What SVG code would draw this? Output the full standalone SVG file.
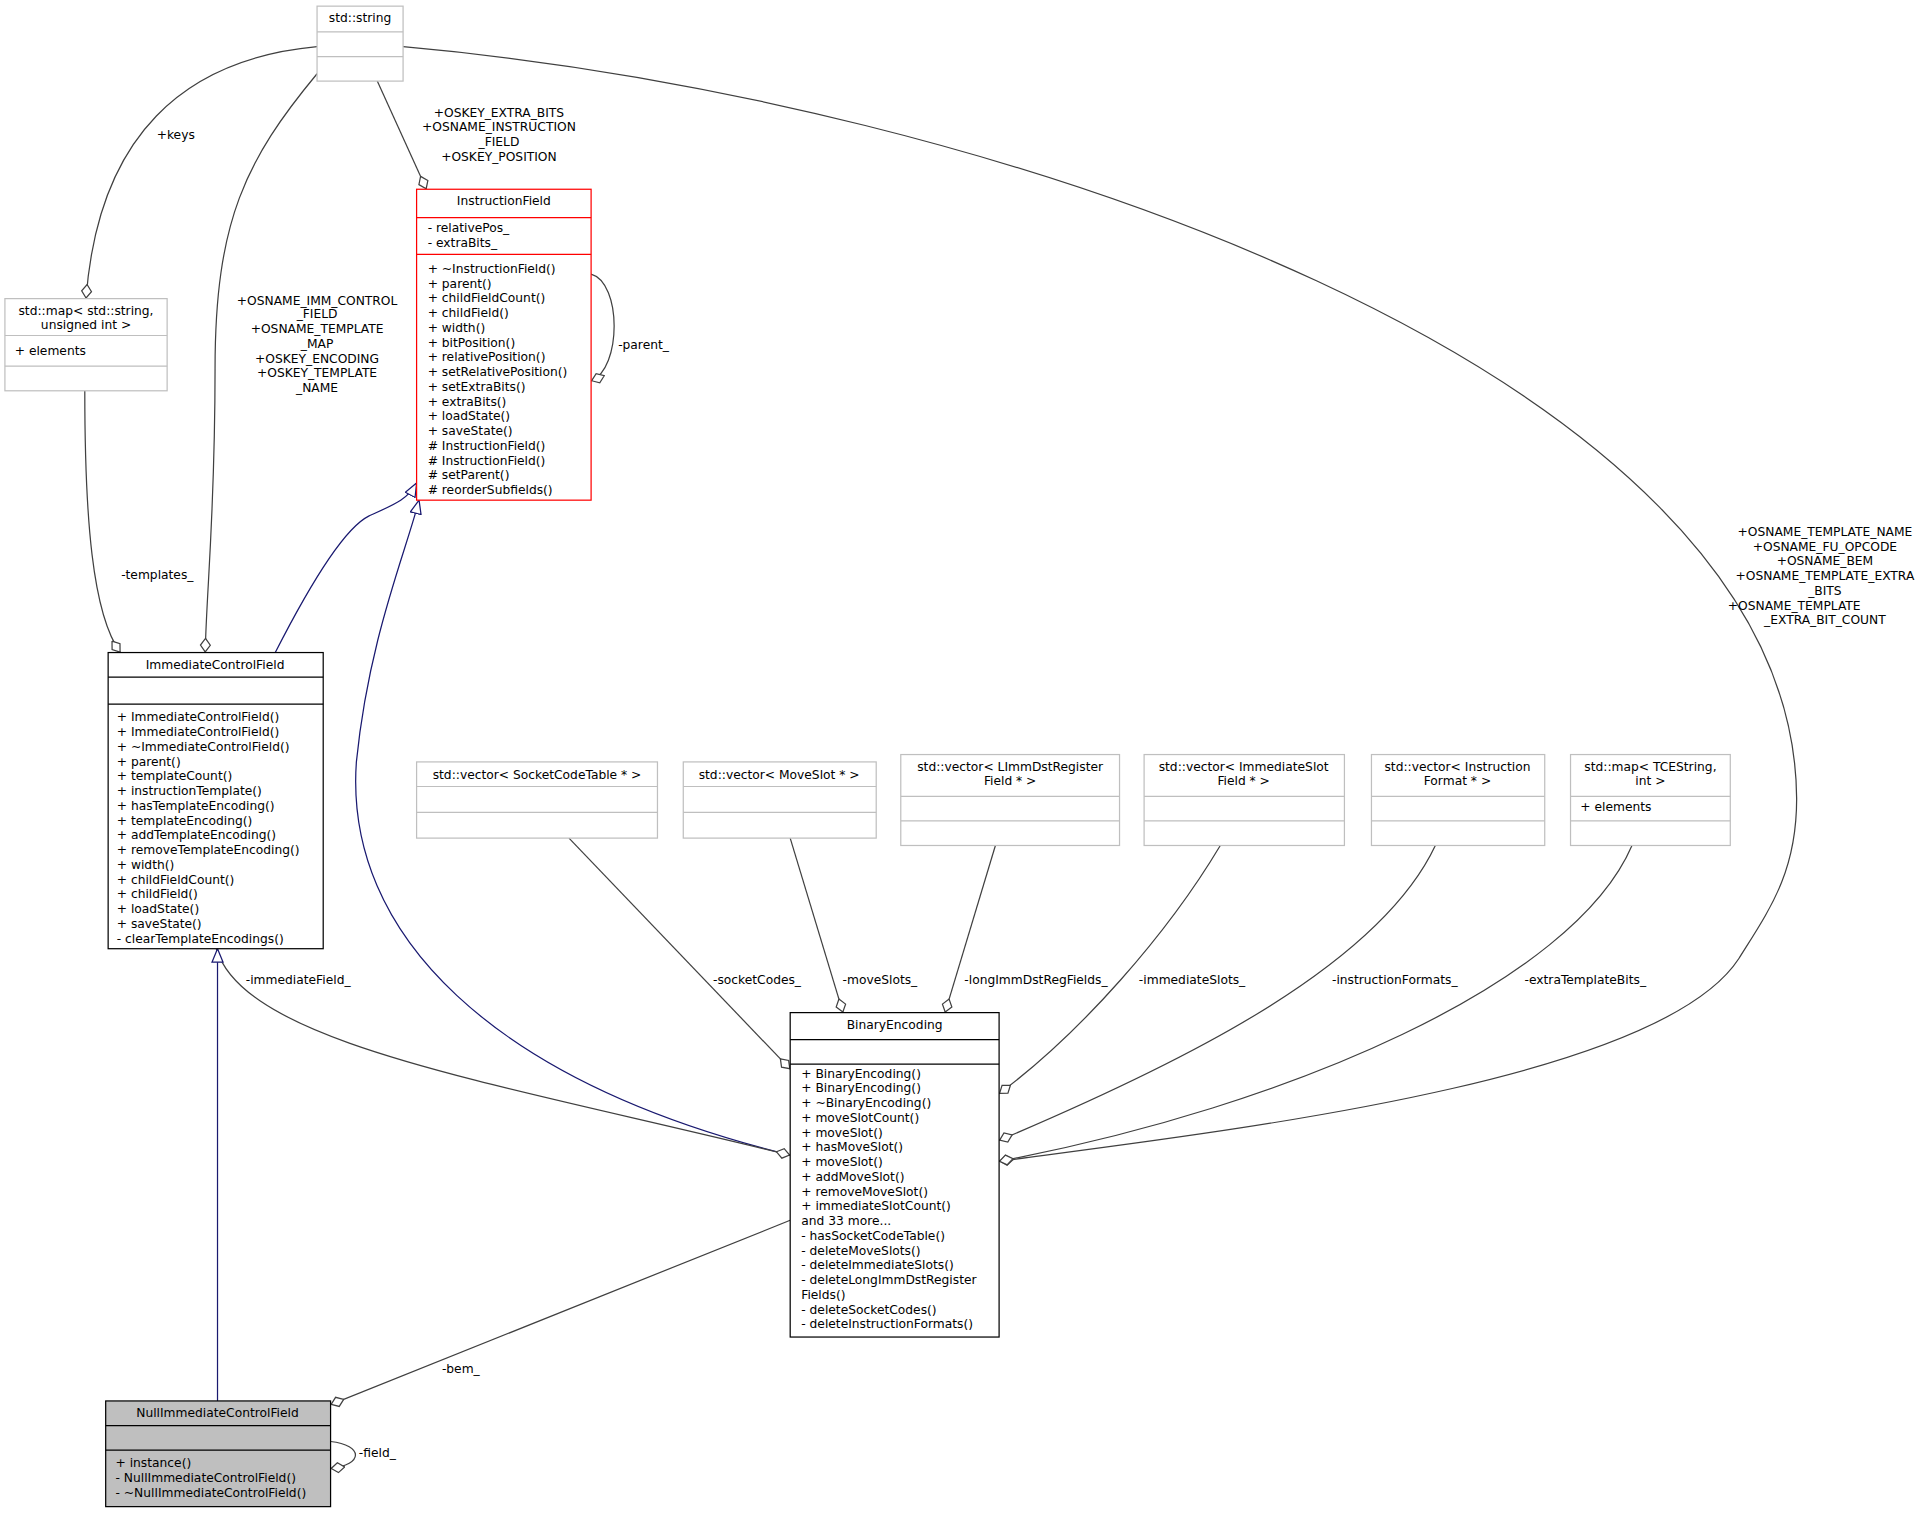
<svg xmlns="http://www.w3.org/2000/svg" width="1927" height="1513" viewBox="0 0 1927 1513">
<style>
text{font-family:"DejaVu Sans",sans-serif;font-size:10px;fill:#000}
.c{text-anchor:middle}
.g{fill:#fff;stroke:#bfbfbf;stroke-width:1}
.b{fill:#fff;stroke:#000;stroke-width:1}
.r{fill:#fff;stroke:#ff0000;stroke-width:1}
.n{fill:#bfbfbf;stroke:#000;stroke-width:1}
.e{fill:none;stroke:#404040;stroke-width:1;marker-end:url(#dia)}
.i{fill:none;stroke:#191970;stroke-width:1;marker-end:url(#tri)}
</style>
<defs>
<marker id="dia" viewBox="0 0 12 10" markerWidth="12" markerHeight="10" refX="12" refY="5" orient="auto" markerUnits="userSpaceOnUse"><path d="M0.5,5 L6,1 L11.5,5 L6,9 z" fill="#fff" stroke="#404040"/></marker>
<marker id="tri" viewBox="0 0 12 10" markerWidth="12" markerHeight="10" refX="11.5" refY="5" orient="auto" markerUnits="userSpaceOnUse"><path d="M0.5,0.5 L11.5,5 L0.5,9.5 z" fill="#fff" stroke="#191970"/></marker>
</defs>
<rect width="1927" height="1513" fill="#fff"/>
<g transform="scale(1.2289)">
<g id="connectors">
<path class="e" d="M258,38 C150,48 80,110 70,243"/>
<text class="c" x="143" y="113">+keys</text>
<path class="e" d="M258,60 C200,130 175,180 175,300 C175,420 168,480 167,531"/>
<text class="c" x="258" y="248">+OSNAME_IMM_CONTROL</text>
<text class="c" x="258" y="259">_FIELD</text>
<text class="c" x="258" y="271">+OSNAME_TEMPLATE</text>
<text class="c" x="258" y="283">_MAP</text>
<text class="c" x="258" y="295">+OSKEY_ENCODING</text>
<text class="c" x="258" y="307">+OSKEY_TEMPLATE</text>
<text class="c" x="258" y="319">_NAME</text>
<path class="e" d="M307,66 L347,154"/>
<text class="c" x="406" y="95">+OSKEY_EXTRA_BITS</text>
<text class="c" x="406" y="107">+OSNAME_INSTRUCTION</text>
<text class="c" x="406" y="119">_FIELD</text>
<text class="c" x="406" y="131">+OSKEY_POSITION</text>
<path class="e" d="M328,38 C800,80 1460,300 1462,650 C1462,710 1440,740 1415,780 C1350,880 1000,920 813,945"/>
<text class="c" x="1485" y="436">+OSNAME_TEMPLATE_NAME</text>
<text class="c" x="1485" y="448">+OSNAME_FU_OPCODE</text>
<text class="c" x="1485" y="460">+OSNAME_BEM</text>
<text class="c" x="1485" y="472">+OSNAME_TEMPLATE_EXTRA</text>
<text class="c" x="1485" y="484">_BITS</text>
<text x="1406" y="496">+OSNAME_TEMPLATE</text>
<text class="c" x="1485" y="508">_EXTRA_BIT_COUNT</text>
<path class="e" d="M69,318 C69,420 75,500 98,531"/>
<text class="c" x="128" y="471">-templates_</text>
<path class="i" d="M224,531 C250,480 280,430 300,420 C322,410 332,406 339,393"/>
<path class="i" d="M643,940 C400,880 280,760 290,620 C300,520 330,450 341,407"/>
<path class="e" d="M176,772 C200,850 400,880 643,940"/>
<text x="200" y="801">-immediateField_</text>
<path class="i" d="M177,1140 L177,772"/>
<path class="e" d="M643,993 L269,1143"/>
<text class="c" x="375" y="1117">-bem_</text>
<path class="e" d="M269,1173 C296,1176 296,1192 269,1195"/>
<text x="292" y="1186">-field_</text>
<path class="e" d="M481,223 C506,230 506,300 481,310"/>
<text x="503" y="284">-parent_</text>
<path class="e" d="M463,682 L643,870"/>
<text class="c" x="616" y="801">-socketCodes_</text>
<path class="e" d="M643,682 L686,824"/>
<text class="c" x="716" y="801">-moveSlots_</text>
<path class="e" d="M810,688 L769,824"/>
<text class="c" x="843" y="801">-longImmDstRegFields_</text>
<path class="e" d="M993,688 C950,760 880,840 813,890"/>
<text class="c" x="970" y="801">-immediateSlots_</text>
<path class="e" d="M1168,688 C1120,790 950,870 813,928"/>
<text class="c" x="1135" y="801">-instructionFormats_</text>
<path class="e" d="M1328,688 C1280,800 1050,900 813,945"/>
<text class="c" x="1290" y="801">-extraTemplateBits_</text>
</g>
<g id="std_string">
<rect class="g" x="258" y="5" width="70" height="61"/>
<path class="g" d="M258,26 H328 M258,46 H328"/>
<text class="c" x="293" y="18">std::string</text>
</g>
<g id="std_map_string">
<rect class="g" x="4" y="243" width="132" height="75"/>
<path class="g" d="M4,273 H136 M4,298 H136"/>
<text class="c" x="70" y="256">std::map&lt; std::string,</text>
<text class="c" x="70" y="268">unsigned int &gt;</text>
<text x="12" y="289">+ elements</text>
</g>
<g id="InstructionField">
<rect class="r" x="339" y="154" width="142" height="253"/>
<path class="r" d="M339,177 H481 M339,207 H481"/>
<text class="c" x="410" y="167">InstructionField</text>
<text x="348" y="189">- relativePos_</text>
<text x="348" y="201">- extraBits_</text>
<text x="348" y="222">+ ~InstructionField()</text>
<text x="348" y="234">+ parent()</text>
<text x="348" y="246">+ childFieldCount()</text>
<text x="348" y="258">+ childField()</text>
<text x="348" y="270">+ width()</text>
<text x="348" y="282">+ bitPosition()</text>
<text x="348" y="294">+ relativePosition()</text>
<text x="348" y="306">+ setRelativePosition()</text>
<text x="348" y="318">+ setExtraBits()</text>
<text x="348" y="330">+ extraBits()</text>
<text x="348" y="342">+ loadState()</text>
<text x="348" y="354">+ saveState()</text>
<text x="348" y="366"># InstructionField()</text>
<text x="348" y="378"># InstructionField()</text>
<text x="348" y="390"># setParent()</text>
<text x="348" y="402"># reorderSubfields()</text>
</g>
<g id="ImmediateControlField">
<rect class="b" x="88" y="531" width="175" height="241"/>
<path class="b" d="M88,551 H263 M88,573 H263"/>
<text class="c" x="175" y="544">ImmediateControlField</text>
<text x="95" y="587">+ ImmediateControlField()</text>
<text x="95" y="599">+ ImmediateControlField()</text>
<text x="95" y="611">+ ~ImmediateControlField()</text>
<text x="95" y="623">+ parent()</text>
<text x="95" y="635">+ templateCount()</text>
<text x="95" y="647">+ instructionTemplate()</text>
<text x="95" y="659">+ hasTemplateEncoding()</text>
<text x="95" y="671">+ templateEncoding()</text>
<text x="95" y="683">+ addTemplateEncoding()</text>
<text x="95" y="695">+ removeTemplateEncoding()</text>
<text x="95" y="707">+ width()</text>
<text x="95" y="719">+ childFieldCount()</text>
<text x="95" y="731">+ childField()</text>
<text x="95" y="743">+ loadState()</text>
<text x="95" y="755">+ saveState()</text>
<text x="95" y="767">- clearTemplateEncodings()</text>
</g>
<g id="vec_SocketCodeTable">
<rect class="g" x="339" y="620" width="196" height="62"/>
<path class="g" d="M339,640 H535 M339,661 H535"/>
<text class="c" x="437" y="634">std::vector&lt; SocketCodeTable * &gt;</text>
</g>
<g id="vec_MoveSlot">
<rect class="g" x="556" y="620" width="157" height="62"/>
<path class="g" d="M556,640 H713 M556,661 H713"/>
<text class="c" x="634" y="634">std::vector&lt; MoveSlot * &gt;</text>
</g>
<g id="vec_LImm">
<rect class="g" x="733" y="614" width="178" height="74"/>
<path class="g" d="M733,648 H911 M733,668 H911"/>
<text class="c" x="822" y="627">std::vector&lt; LImmDstRegister</text>
<text class="c" x="822" y="639">Field * &gt;</text>
</g>
<g id="vec_ImmSlot">
<rect class="g" x="931" y="614" width="163" height="74"/>
<path class="g" d="M931,648 H1094 M931,668 H1094"/>
<text class="c" x="1012" y="627">std::vector&lt; ImmediateSlot</text>
<text class="c" x="1012" y="639">Field * &gt;</text>
</g>
<g id="vec_InstrFormat">
<rect class="g" x="1116" y="614" width="141" height="74"/>
<path class="g" d="M1116,648 H1257 M1116,668 H1257"/>
<text class="c" x="1186" y="627">std::vector&lt; Instruction</text>
<text class="c" x="1186" y="639">Format * &gt;</text>
</g>
<g id="map_TCEString">
<rect class="g" x="1278" y="614" width="130" height="74"/>
<path class="g" d="M1278,648 H1408 M1278,668 H1408"/>
<text class="c" x="1343" y="627">std::map&lt; TCEString,</text>
<text class="c" x="1343" y="639">int &gt;</text>
<text x="1286" y="660">+ elements</text>
</g>
<g id="BinaryEncoding">
<rect class="b" x="643" y="824" width="170" height="264"/>
<path class="b" d="M643,846 H813 M643,866 H813"/>
<text class="c" x="728" y="837">BinaryEncoding</text>
<text x="652" y="877">+ BinaryEncoding()</text>
<text x="652" y="889">+ BinaryEncoding()</text>
<text x="652" y="901">+ ~BinaryEncoding()</text>
<text x="652" y="913">+ moveSlotCount()</text>
<text x="652" y="925">+ moveSlot()</text>
<text x="652" y="937">+ hasMoveSlot()</text>
<text x="652" y="949">+ moveSlot()</text>
<text x="652" y="961">+ addMoveSlot()</text>
<text x="652" y="973">+ removeMoveSlot()</text>
<text x="652" y="985">+ immediateSlotCount()</text>
<text x="652" y="997">and 33 more...</text>
<text x="652" y="1009">- hasSocketCodeTable()</text>
<text x="652" y="1021">- deleteMoveSlots()</text>
<text x="652" y="1033">- deleteImmediateSlots()</text>
<text x="652" y="1045">- deleteLongImmDstRegister</text>
<text x="652" y="1057">Fields()</text>
<text x="652" y="1069">- deleteSocketCodes()</text>
<text x="652" y="1081">- deleteInstructionFormats()</text>
</g>
<g id="NullImmediateControlField">
<rect class="n" x="86" y="1140" width="183" height="86"/>
<path class="n" d="M86,1160 H269 M86,1180 H269"/>
<text class="c" x="177" y="1153">NullImmediateControlField</text>
<text x="94" y="1194">+ instance()</text>
<text x="94" y="1206">- NullImmediateControlField()</text>
<text x="94" y="1218">- ~NullImmediateControlField()</text>
</g>
</g>
</svg>
